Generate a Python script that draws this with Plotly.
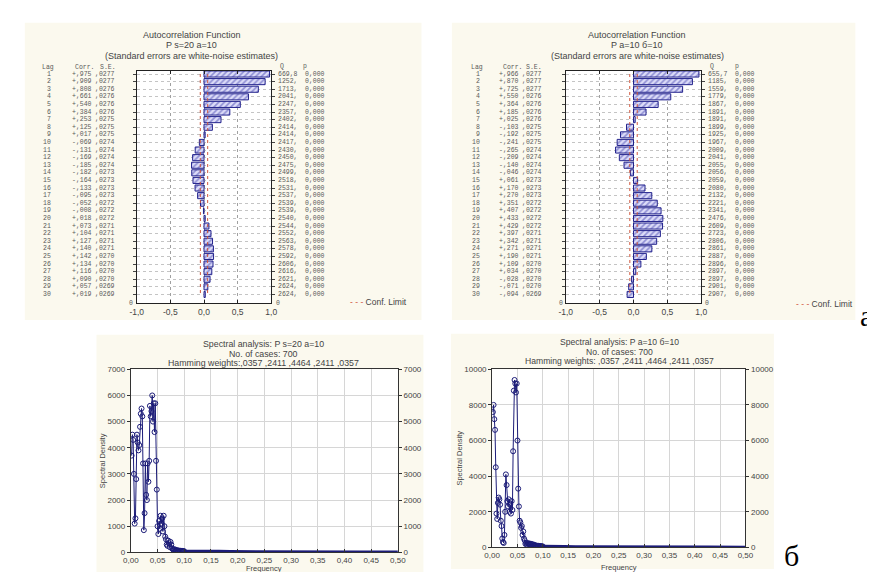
import plotly.graph_objects as go

W, H = 875, 572


def px(x):
    return x / W


def py(y):
    return 1 - y / H


# ---------------- data ----------------
lags = list(range(1, 31))

acf1_corr = [0.975, 0.909, 0.808, 0.661, 0.540, 0.384, 0.253, 0.125, 0.017, -0.069,
             -0.131, -0.169, -0.185, -0.182, -0.164, -0.133, -0.095, -0.052, -0.008, 0.018,
             0.073, 0.104, 0.127, 0.140, 0.142, 0.134, 0.116, 0.090, 0.057, 0.019]
acf1_se = [0.0277, 0.0277, 0.0276, 0.0276, 0.0276, 0.0276, 0.0275, 0.0275, 0.0275, 0.0274,
           0.0274, 0.0274, 0.0274, 0.0273, 0.0273, 0.0273, 0.0273, 0.0272, 0.0272, 0.0272,
           0.0271, 0.0271, 0.0271, 0.0271, 0.0270, 0.0270, 0.0270, 0.0270, 0.0269, 0.0269]
acf1_q = [669.8, 1252, 1713, 2041, 2247, 2357, 2402, 2414, 2414, 2417,
          2430, 2450, 2475, 2499, 2518, 2531, 2537, 2539, 2539, 2540,
          2544, 2552, 2563, 2578, 2592, 2606, 2616, 2621, 2624, 2624]

acf2_corr = [0.966, 0.870, 0.725, 0.550, 0.364, 0.185, 0.025, -0.103, -0.192, -0.241,
             -0.265, -0.209, -0.140, -0.046, 0.061, 0.170, 0.270, 0.351, 0.407, 0.433,
             0.429, 0.397, 0.342, 0.271, 0.190, 0.109, 0.034, -0.028, -0.071, -0.094]
acf2_se = [0.0277, 0.0277, 0.0277, 0.0276, 0.0276, 0.0276, 0.0276, 0.0275, 0.0275, 0.0275,
           0.0274, 0.0274, 0.0274, 0.0274, 0.0273, 0.0273, 0.0273, 0.0272, 0.0272, 0.0272,
           0.0272, 0.0271, 0.0271, 0.0271, 0.0271, 0.0270, 0.0270, 0.0270, 0.0270, 0.0269]
acf2_q = [655.7, 1185, 1559, 1779, 1867, 1891, 1891, 1899, 1925, 1967,
          2009, 2041, 2055, 2056, 2059, 2080, 2132, 2221, 2341, 2476,
          2609, 2723, 2806, 2861, 2887, 2896, 2897, 2897, 2901, 2907]

acf_p = [0.0] * 30

# spectral density, frequency index k (frequency = k / 700)
n_cases = 700
spec_k = list(range(1, 71))
spec1_vals = [3700, 4500, 4300, 3000, 1100, 1300, 2800, 4500, 4200, 3900,
              4100, 4800, 5300, 5500, 5200, 3400, 850, 1500, 3400, 2200,
              2000, 3400, 2700, 3500, 5600, 5200, 5400, 6000, 5000, 5700,
              4600, 5700, 3500, 2400, 1000, 700, 1200, 900, 1400, 1100,
              1300, 800, 1400, 1000, 600, 500, 300, 250, 450, 350,
              200, 400, 300, 150, 120, 90, 120, 70, 100, 60,
              80, 50, 70, 50, 60, 40, 60, 40, 50, 40]
spec2_vals = [7600, 8000, 7200, 6600, 4500, 1900, 1600, 2500, 2800, 2700,
              2400, 1500, 1200, 500, 300, 250, 700, 2000, 4100, 3500,
              2600, 2300, 2700, 2000, 2400, 1900, 2600, 2100, 5400, 8800,
              9400, 9200, 8700, 9200, 6000, 3300, 2300, 1500, 1400, 1100,
              1200, 700, 900, 500, 400, 200, 250, 150, 250, 200,
              180, 220, 150, 200, 120, 180, 100, 150, 90, 120,
              80, 100, 70, 90, 60, 80, 60, 70, 50, 60]
tail_k = [70, 80, 90, 100, 115, 130, 150, 200, 250, 300, 350]
spec1_tail = [40, 45, 40, 35, 40, 30, 25, 20, 18, 15, 15]
spec2_tail = [60, 70, 60, 50, 45, 40, 30, 25, 20, 18, 15]

acf_ticks = [-1.0, -0.5, 0.0, 0.5, 1.0]
acf_ticktext = ["-1,0", "-0,5", "0,0", "0,5", "1,0"]
freq_ticks = [0.0, 0.05, 0.10, 0.15, 0.20, 0.25, 0.30, 0.35, 0.40, 0.45, 0.50]
freq_ticktext = ["0,00", "0,05", "0,10", "0,15", "0,20", "0,25", "0,30", "0,35", "0,40", "0,45", "0,50"]
spec1_yticks = [0, 1000, 2000, 3000, 4000, 5000, 6000, 7000]
spec2_yticks = [0, 2000, 4000, 6000, 8000, 10000]

# ---------------- styling ----------------
CREAM = "#fbf9ee"
NAVY = "#1c1c78"
BAR_LINE = "#22228c"
CONF = "#d0553a"
TXT = "#5a5a5a"
MONO = "Liberation Mono"
SANS = "Liberation Sans"

# panel layout (pixels)
acf_y = (60, 296)
acf1_x = (123, 260)
acf2_x = (560, 698)
spec1_x, spec1_y = (117, 389), (363, 549)
spec2_x, spec2_y = (485, 743), (363, 544)

lag_range = [31.17, 0.61]


def fmt_corr(v):
    s = "+" if v >= 0 else "-"
    return f"{s},{int(round(abs(v) * 1000)):03d}"


def fmt_se(v):
    return "," + f"{v:.4f}".split(".")[1]


def fmt_q(v):
    if v < 1000:
        return f"{v:.1f}".replace(".", ",")
    return f"{int(round(v))},"


def fmt_p(v):
    return f"{v:.3f}".replace(".", ",")


fig = go.Figure()

# ---------------- ACF bars ----------------
for corr, se, xa, ya in [(acf1_corr, acf1_se, "x", "y"), (acf2_corr, acf2_se, "x2", "y2")]:
    fig.add_trace(go.Bar(
        x=corr, y=lags, orientation="h", width=0.8, xaxis=xa, yaxis=ya,
        marker=dict(color="#d6d6f4", line=dict(color=BAR_LINE, width=1),
                    pattern=dict(shape="/", fgcolor="#4242b0", bgcolor="#dcdcf8",
                                 size=4, solidity=0.4)),
        showlegend=False, hoverinfo="skip"))
    for sgn in (1, -1):
        fig.add_trace(go.Scatter(
            x=[sgn * 2 * s for s in se], y=lags, mode="lines", xaxis=xa, yaxis=ya,
            line=dict(color=CONF, width=1, dash="dot"), showlegend=False, hoverinfo="skip"))

# ---------------- spectral lines ----------------
for vals, tail, xa, ya in [(spec1_vals, spec1_tail, "x3", "y3"), (spec2_vals, spec2_tail, "x4", "y4")]:
    fig.add_trace(go.Scatter(
        x=[k / n_cases for k in tail_k], y=tail, mode="lines", xaxis=xa, yaxis=ya,
        line=dict(color=NAVY, width=3), showlegend=False, hoverinfo="skip"))
    fig.add_trace(go.Scatter(
        x=[k / n_cases for k in spec_k], y=vals, mode="lines+markers", xaxis=xa, yaxis=ya,
        line=dict(color=NAVY, width=1),
        marker=dict(symbol="circle-open", size=5, color=NAVY, line=dict(width=1)),
        showlegend=False, hoverinfo="skip"))

# helper empty traces so right-hand mirrored axes are drawn
fig.add_trace(go.Scatter(x=[], y=[], xaxis="x3", yaxis="y5", showlegend=False))
fig.add_trace(go.Scatter(x=[], y=[], xaxis="x4", yaxis="y6", showlegend=False))

tickfont = dict(family=SANS, size=8, color="#444")

acf_x_common = dict(range=[-1, 1], tickvals=acf_ticks, ticktext=acf_ticktext,
                    showgrid=True, gridcolor="#a0a0a0", griddash="dot", gridwidth=1,
                    zeroline=False, showline=True, linecolor="#222", linewidth=1,
                    mirror="ticks", ticks="inside", ticklen=3, tickcolor="#222",
                    tickfont=dict(family=SANS, size=8.5, color="#444"), fixedrange=True)
acf_y_common = dict(range=lag_range, tickvals=lags, showticklabels=False,
                    showgrid=True, gridcolor="#c4c4c4", griddash="dot", gridwidth=1,
                    zeroline=False, showline=True, linecolor="#222", linewidth=1,
                    mirror="ticks", ticks="outside", ticklen=3, tickcolor="#444",
                    fixedrange=True)
spec_x_common = dict(range=[0, 0.5], tickvals=freq_ticks, ticktext=freq_ticktext,
                     showgrid=True, gridcolor="#d6d6d6", zeroline=False,
                     showline=True, linecolor="#333", linewidth=1, mirror=True,
                     ticks="inside", ticklen=3, tickcolor="#333", tickfont=tickfont)
spec_y_common = dict(showgrid=True, gridcolor="#d6d6d6", zeroline=False,
                     showline=True, linecolor="#333", linewidth=1, mirror=True,
                     ticks="outside", ticklen=3, tickcolor="#333", tickfont=tickfont)

fig.update_layout(
    width=W, height=H, margin=dict(l=0, r=0, t=0, b=0),
    paper_bgcolor="white", plot_bgcolor="rgba(0,0,0,0)",
    bargap=0.2,
    xaxis=dict(domain=[px(acf1_x[0]), px(acf1_x[1])], anchor="y", **acf_x_common),
    yaxis=dict(domain=[py(acf_y[1]), py(acf_y[0])], anchor="x", **acf_y_common),
    xaxis2=dict(domain=[px(acf2_x[0]), px(acf2_x[1])], anchor="y2", **acf_x_common),
    yaxis2=dict(domain=[py(acf_y[1]), py(acf_y[0])], anchor="x2", **acf_y_common),
    xaxis3=dict(domain=[px(spec1_x[0]), px(spec1_x[1])], anchor="y3", **spec_x_common),
    yaxis3=dict(domain=[py(spec1_y[1]), py(spec1_y[0])], anchor="x3", range=[0, 7000],
                tickvals=spec1_yticks, ticktext=[str(v) for v in spec1_yticks], **spec_y_common),
    yaxis5=dict(overlaying="y3", side="right", anchor="x3", range=[0, 7000],
                tickvals=spec1_yticks, ticktext=[str(v) for v in spec1_yticks],
                showgrid=False, zeroline=False, ticks="outside", ticklen=3,
                tickcolor="#333", tickfont=tickfont),
    xaxis4=dict(domain=[px(spec2_x[0]), px(spec2_x[1])], anchor="y4", **spec_x_common),
    yaxis4=dict(domain=[py(spec2_y[1]), py(spec2_y[0])], anchor="x4", range=[0, 10000],
                tickvals=spec2_yticks, ticktext=[str(v) for v in spec2_yticks], **spec_y_common),
    yaxis6=dict(overlaying="y4", side="right", anchor="x4", range=[0, 10000],
                tickvals=spec2_yticks, ticktext=[str(v) for v in spec2_yticks],
                showgrid=False, zeroline=False, ticks="outside", ticklen=3,
                tickcolor="#333", tickfont=tickfont),
)

# ---------------- backgrounds ----------------
shapes = []
for (x0, y0, x1, y1) in [(9, 11, 413, 313), (444, 11, 855, 313), (82, 328, 415, 572), (443, 327, 772, 566)]:
    shapes.append(dict(type="rect", xref="paper", yref="paper", x0=px(x0), x1=px(x1),
                       y0=py(y1), y1=py(y0), fillcolor=CREAM, line=dict(width=0), layer="below"))
for (xr, yr) in [(acf1_x, acf_y), (acf2_x, acf_y), (spec1_x, spec1_y), (spec2_x, spec2_y)]:
    shapes.append(dict(type="rect", xref="paper", yref="paper", x0=px(xr[0]), x1=px(xr[1]),
                       y0=py(yr[1]), y1=py(yr[0]), fillcolor="white", line=dict(width=0), layer="below"))
fig.update_layout(shapes=shapes)

# ---------------- text ----------------
ann = []


def add_text(x, y, s, size=8, family=SANS, color="#444", xanchor="center", yanchor="middle",
             xref="paper", yref="paper", textangle=0):
    ann.append(dict(x=x, y=y, xref=xref, yref=yref, text=s, showarrow=False,
                    font=dict(family=family, size=size, color=color),
                    xanchor=xanchor, yanchor=yanchor, textangle=textangle))


TS = 6.5  # table font size


def acf_table(corr, se, q, yref, cols, header, zero_x):
    lag_r, corr_r, se_r, q_l, p_l = cols
    for i, lag in enumerate(lags):
        add_text(px(lag_r), lag, str(lag), TS, MONO, TXT, "right", yref=yref)
        add_text(px(corr_r), lag, fmt_corr(corr[i]), TS, MONO, TXT, "right", yref=yref)
        add_text(px(se_r), lag, fmt_se(se[i]), TS, MONO, TXT, "right", yref=yref)
        add_text(px(q_l), lag, fmt_q(q[i]), TS, MONO, TXT, "left", yref=yref)
        add_text(px(p_l), lag, fmt_p(acf_p[i]), TS, MONO, TXT, "left", yref=yref)
    hx = header
    add_text(px(hx[0]), py(56), "Lag", TS, MONO, TXT)
    add_text(px(hx[1]), py(56), "Corr.", TS, MONO, TXT)
    add_text(px(hx[2]), py(56), "S.E.", TS, MONO, TXT)
    add_text(px(hx[3]), py(55), "Q", TS, MONO, TXT)
    add_text(px(hx[4]), py(55), "p", TS, MONO, TXT)
    add_text(px(zero_x[0]), py(296), "0", TS, MONO, TXT)
    add_text(px(zero_x[1]), py(296), "0", TS, MONO, TXT)


acf_table(acf1_corr, acf1_se, acf1_q, "y", (38, 79, 103, 265, 292), (33, 70, 94, 271, 294), (117, 267))
acf_table(acf2_corr, acf2_se, acf2_q, "y2", (475, 514, 538, 703, 730), (470, 506, 528, 709, 734), (555, 704))

# ACF titles
for cx, sub in [(179, "P s=20 a=10"), (633, "P a=10 б=10")]:
    add_text(px(cx), py(23), "Autocorrelation Function", 9)
    add_text(px(cx), py(34), sub, 9)
    add_text(px(cx), py(45), "(Standard errors are white-noise estimates)", 9)

# Conf. limit legends
add_text(px(338), py(295), f'<span style="color:{CONF}">- - -</span> Conf. Limit', 8.5, SANS, "#444", "left")
add_text(px(793), py(297), f'<span style="color:{CONF}">- - -</span> Conf. Limit', 8.5, SANS, "#444", "left")

# spectral titles
add_text(px(252), py(337), "Spectral analysis: P s=20 a=10", 8.8)
add_text(px(252), py(347), "No. of cases: 700", 8.8)
add_text(px(252), py(357), "Hamming weights:,0357 ,2411 ,4464 ,2411 ,0357", 8.8)
add_text(px(615), py(335), "Spectral analysis: P a=10 б=10", 8.6)
add_text(px(615), py(345), "No. of cases: 700", 8.6)
add_text(px(615), py(355), "Hamming weights: ,0357 ,2411 ,4464 ,2411 ,0357", 8.6)

# axis titles
add_text(px(88), py(456), "Spectral Density", 7.5, textangle=-90)
add_text(px(253), py(565), "Frequency", 7.5)
add_text(px(452), py(453), "Spectral Density", 7.5, textangle=-90)
add_text(px(614), py(564), "Frequency", 7.5)

# panel letters
add_text(px(866), py(308), "а", 30, "Liberation Serif", "black")
add_text(px(790), py(552), "б", 30, "Liberation Serif", "black")

fig.update_layout(annotations=ann)

fig.write_html("out.html")
